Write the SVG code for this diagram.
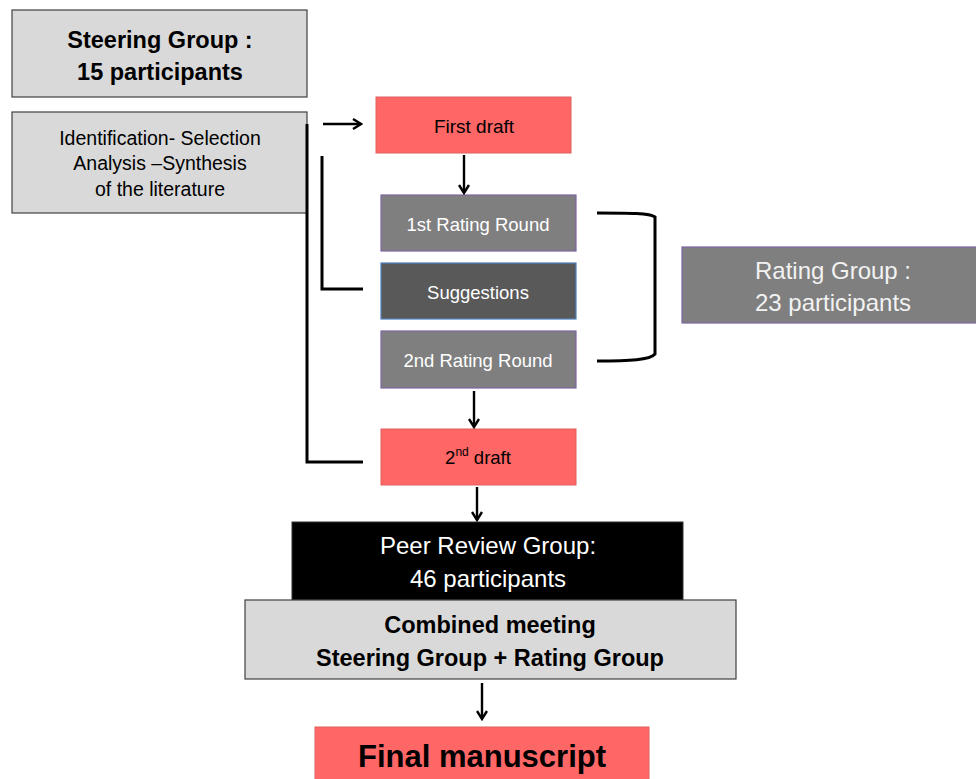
<svg xmlns="http://www.w3.org/2000/svg" width="976" height="779" viewBox="0 0 976 779">
<defs>
<marker id="ah" viewBox="0 0 12 12" refX="10" refY="6" markerWidth="5" markerHeight="5" orient="auto" markerUnits="strokeWidth">
<path d="M2,1 L10,6 L2,11" fill="none" stroke="#000" stroke-width="2.4"/>
</marker>
<style>
text{font-family:"Liberation Sans",Arial,sans-serif;text-anchor:middle}
.grey{fill:#d9d9d9;stroke:#404040;stroke-width:1.2}
.red{fill:#ff6666;stroke:#e0605e;stroke-width:1}
.mid{fill:#7f7f7f;stroke:#8064a2;stroke-width:1.2}
.dark{fill:#595959;stroke:#4f81bd;stroke-width:1.2}
.blk{fill:#000;stroke:#333;stroke-width:1}
.ln{fill:none;stroke:#000;stroke-width:3}
.ar{fill:none;stroke:#000;stroke-width:2.4;marker-end:url(#ah)}
.b{font-weight:bold}
.w{fill:#fff}
</style>
</defs>
<rect width="976" height="779" fill="#fff"/>
<g id="steering">
<rect class="grey" x="12" y="10" width="295" height="87"/>
<text class="b" x="160" y="48" font-size="23.5">Steering Group :</text>
<text class="b" x="160" y="80" font-size="23.5">15 participants</text>
</g>
<g id="literature">
<rect class="grey" x="12" y="112" width="295" height="101"/>
<text x="160" y="145" font-size="19.5">Identification- Selection</text>
<text x="160" y="170" font-size="19.5">Analysis –Synthesis</text>
<text x="160" y="196" font-size="19.5">of the literature</text>
</g>
<g id="first-draft">
<rect class="red" x="376" y="97" width="195" height="56"/>
<text x="474" y="133" font-size="19">First draft</text>
</g>
<g id="round1">
<rect class="mid" x="381" y="195" width="195" height="56"/>
<text class="w" x="478" y="231" font-size="18.5">1st Rating Round</text>
</g>
<g id="suggestions">
<rect class="dark" x="381" y="263" width="195" height="56"/>
<text class="w" x="478" y="299" font-size="18.5">Suggestions</text>
</g>
<g id="round2">
<rect class="mid" x="381" y="331" width="195" height="57"/>
<text class="w" x="478" y="367" font-size="18.5">2nd Rating Round</text>
</g>
<g id="second-draft">
<rect class="red" x="381" y="429" width="195" height="56"/>
<text x="478" y="464" font-size="18.5">2<tspan font-size="12" dy="-8">nd</tspan><tspan dy="8"> draft</tspan></text>
</g>
<g id="rating-group">
<rect class="mid" x="682" y="247" width="296" height="76"/>
<text x="833" y="279" font-size="24" fill="#f2f2f2">Rating Group :</text>
<text x="833" y="311" font-size="24" fill="#f2f2f2">23 participants</text>
</g>
<g id="peer-review">
<rect class="blk" x="292" y="522" width="391" height="78"/>
<text class="w" x="488" y="554" font-size="24">Peer Review Group:</text>
<text class="w" x="488" y="587" font-size="24">46 participants</text>
</g>
<g id="combined">
<rect class="grey" x="245" y="600" width="491" height="79"/>
<text class="b" x="490" y="633" font-size="23.5">Combined meeting</text>
<text class="b" x="490" y="666" font-size="23.5">Steering Group + Rating Group</text>
</g>
<g id="final">
<rect class="red" x="315" y="727" width="334" height="60"/>
<text class="b" x="482" y="767" font-size="31">Final manuscript</text>
</g>
<g id="connectors">
<path class="ar" d="M323,124 L361,124"/>
<path class="ar" d="M464,155 L464,193"/>
<path class="ar" d="M474,391 L474,427"/>
<path class="ar" d="M477,487 L477,520"/>
<path class="ar" d="M482,683 L482,719"/>
<path class="ln" d="M307,124 L307,462 L363,462"/>
<path class="ln" d="M322,156 L322,289 L363,289"/>
<path class="ln" d="M597,213 C630,213 650,213 655,217 L655,354 C650,360 630,361 597,361"/>
</g>
</svg>
